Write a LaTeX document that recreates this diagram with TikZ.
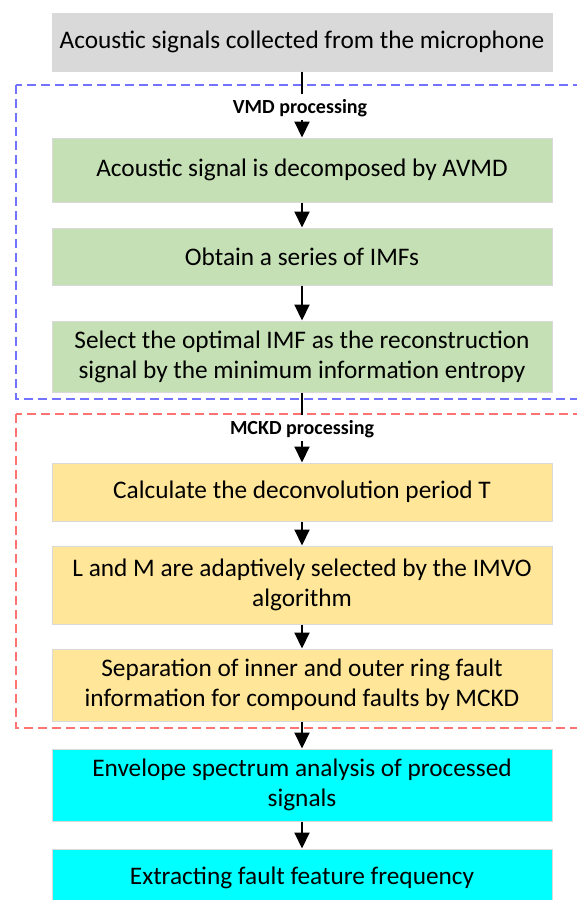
\documentclass[tikz,border=0pt]{standalone}
\usepackage{fontspec}
\setmainfont{Carlito}
\usetikzlibrary{arrows.meta}
\definecolor{boxgray}{HTML}{D9D9D9}
\definecolor{boxgreen}{HTML}{C5E0B4}
\definecolor{boxorange}{HTML}{FFE699}
\definecolor{boxcyan}{HTML}{00FFFF}
\definecolor{vmdblue}{HTML}{7373FF}
\definecolor{mckdred}{HTML}{FF7373}
\tikzset{ b/.style = { rectangle % step box
        , draw = black!15
        , line width = 1pt
        , minimum width = 500pt
        , inner sep = 0pt
        , align = center
        , font = \fontsize{25.3}{30}\selectfont
        }
        , l/.style = { rectangle % stage label
        , inner sep = 3pt
        , text height = 16pt
        , text depth = 4pt
        , anchor = base
        , font = \fontsize{20}{24}\selectfont\bfseries
        }
        , f/.style = { dash pattern = on 9pt off 5pt % stage frame
        , line width = 1.3pt
        }
        }

\begin{document}
\begin{tikzpicture}[x=1pt, y=-1pt,
        edge_style/.style={draw=black, line width=2pt, -{Triangle[length=16pt,width=15pt]}},
        stub_style/.style={draw=black, line width=2pt}]
        \useasboundingbox (0,0) rectangle (576,900);

        \draw [f, draw=vmdblue] (16,85) rectangle (580,399);
        \draw [f, draw=mckdred] (16,414) rectangle (580,728);

        \node [b, fill=boxgray, minimum height=58pt] (n1) at (302,42) {Acoustic signals collected from the microphone};
        \node [b, fill=boxgreen, minimum height=64pt] (n2) at (302,170) {Acoustic signal is decomposed by AVMD};
        \node [b, fill=boxgreen, minimum height=57pt] (n3) at (302,256.5) {Obtain a series of IMFs};
        \node [b, fill=boxgreen, minimum height=71pt] (n4) at (302,356.5) {Select the optimal IMF as the reconstruction\\signal by the minimum information entropy};
        \node [b, fill=boxorange, minimum height=58pt] (n5) at (302,492) {Calculate the deconvolution period T};
        \node [b, fill=boxorange, minimum height=78pt] (n6) at (302,585) {L and M are adaptively selected by the IMVO\\algorithm};
        \node [b, fill=boxorange, minimum height=72pt] (n7) at (302,685) {Separation of inner and outer ring fault\\information for compound faults by MCKD};
        \node [b, fill=boxcyan, minimum height=72pt] (n8) at (302,785) {Envelope spectrum analysis of processed\\signals};
        \node [b, fill=boxcyan, minimum height=58pt] (n9) at (302,878) {Extracting fault feature frequency};

        \node [l] (l1) at (300,113) {VMD processing};
        \node [l] (l2) at (302,434) {MCKD processing};

        \draw [stub_style] (n1.south) -- (n1.south |- l1.north);
        \draw [edge_style] (n1.south |- l1.south) -- (n2.north);
        \draw [edge_style] (n2) -- (n3);
        \draw [edge_style] (n3) -- (n4);
        \draw [stub_style] (n4.south) -- (n4.south |- l2.north);
        \draw [edge_style] (n4.south |- l2.south) -- (n5.north);
        \draw [edge_style] (n5) -- (n6);
        \draw [edge_style] (n6) -- (n7);
        \draw [edge_style] (n7) -- (n8);
        \draw [edge_style] (n8) -- (n9);

\end{tikzpicture}
\end{document}
